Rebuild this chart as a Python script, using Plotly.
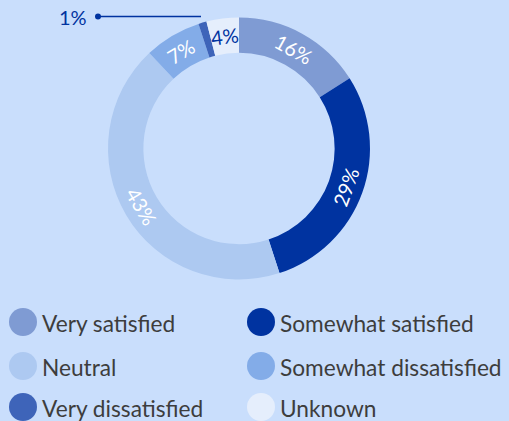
import math
import plotly.graph_objects as go

categories = ["Very satisfied", "Somewhat satisfied", "Neutral",
              "Somewhat dissatisfied", "Very dissatisfied", "Unknown"]
values = [16, 29, 43, 7, 1, 4]
colors = ["#7f9bd3", "#0033a0", "#adc9f1", "#83ace8", "#3e64b9", "#e5eefc"]
label_colors = ["white", "white", "white", "white", "#0033a0", "#0033a0"]

W, H = 509, 421
BG = "#c9defc"
FONT = "Lato"

# donut geometry (pixels)
CX, CY = 239, 148.5
R_OUT = 131
HOLE = 0.73

fig = go.Figure()
fig.add_trace(go.Pie(
    labels=categories, values=values, sort=False, direction="clockwise",
    rotation=0, hole=HOLE,
    marker=dict(colors=colors, line=dict(width=0)),
    textinfo="none",
    hoverinfo="label+percent", showlegend=False,
    domain=dict(x=[(CX - R_OUT) / W, (CX + R_OUT) / W],
                y=[1 - (CY + R_OUT) / H, 1 - (CY - R_OUT) / H]),
))

shapes = []
annotations = []

# slice labels, placed tangentially at each slice's mid angle
total = sum(values)
r_mid = R_OUT * (1 + HOLE) / 2
cum = 0
for i, v in enumerate(values):
    mid = (cum + v / 2) / total * 360.0
    cum += v
    if v < 2:
        # small slice: outside label with leader line
        shapes.append(dict(type="line", xref="paper", yref="paper",
                           x0=98 / W, x1=201 / W, y0=1 - 16.5 / H, y1=1 - 16.5 / H,
                           line=dict(color="#0033a0", width=1.5)))
        shapes.append(dict(type="circle", xref="paper", yref="paper",
                           x0=95 / W, x1=101 / W, y0=1 - 19.5 / H, y1=1 - 13.5 / H,
                           fillcolor="#0033a0", line=dict(width=0)))
        annotations.append(dict(text=f"{v}%", xref="paper", yref="paper",
                                x=89 / W, y=1 - 17 / H, xanchor="right", yanchor="middle",
                                showarrow=False,
                                font=dict(family=FONT, size=20, color=label_colors[i])))
        continue
    th = math.radians(mid)
    px = CX + r_mid * math.sin(th)
    py = CY - r_mid * math.cos(th)
    ang = mid if mid <= 90 else (mid - 180 if mid <= 270 else mid - 360)
    annotations.append(dict(text=f"{v}%", xref="paper", yref="paper",
                            x=px / W, y=1 - py / H, xanchor="center", yanchor="middle",
                            textangle=ang, showarrow=False,
                            font=dict(family=FONT, size=20, color=label_colors[i])))

# custom legend with large round markers
col_cx = [23, 261]
row_cy = [322, 366, 407]
r = 14
for i, (cat, col) in enumerate(zip(categories, colors)):
    cx = col_cx[i % 2]
    cy = row_cy[i // 2]
    shapes.append(dict(type="circle", xref="paper", yref="paper",
                       x0=(cx - r) / W, x1=(cx + r) / W,
                       y0=1 - (cy + r) / H, y1=1 - (cy - r) / H,
                       fillcolor=col, line=dict(width=0)))
    annotations.append(dict(text=cat, xref="paper", yref="paper",
                            x=(cx + r + 3) / W, y=1 - (cy + 1) / H,
                            xanchor="left", yanchor="middle", showarrow=False,
                            font=dict(family=FONT, size=22.7, color="#3d3d3d")))

fig.update_layout(
    width=W, height=H, margin=dict(l=0, r=0, t=0, b=0),
    paper_bgcolor=BG, plot_bgcolor=BG,
    shapes=shapes, annotations=annotations,
)

fig.write_html("out.html", config={"displayModeBar": False},
               post_script="document.body.style.margin='0';"
                           "document.body.style.overflow='hidden';")
